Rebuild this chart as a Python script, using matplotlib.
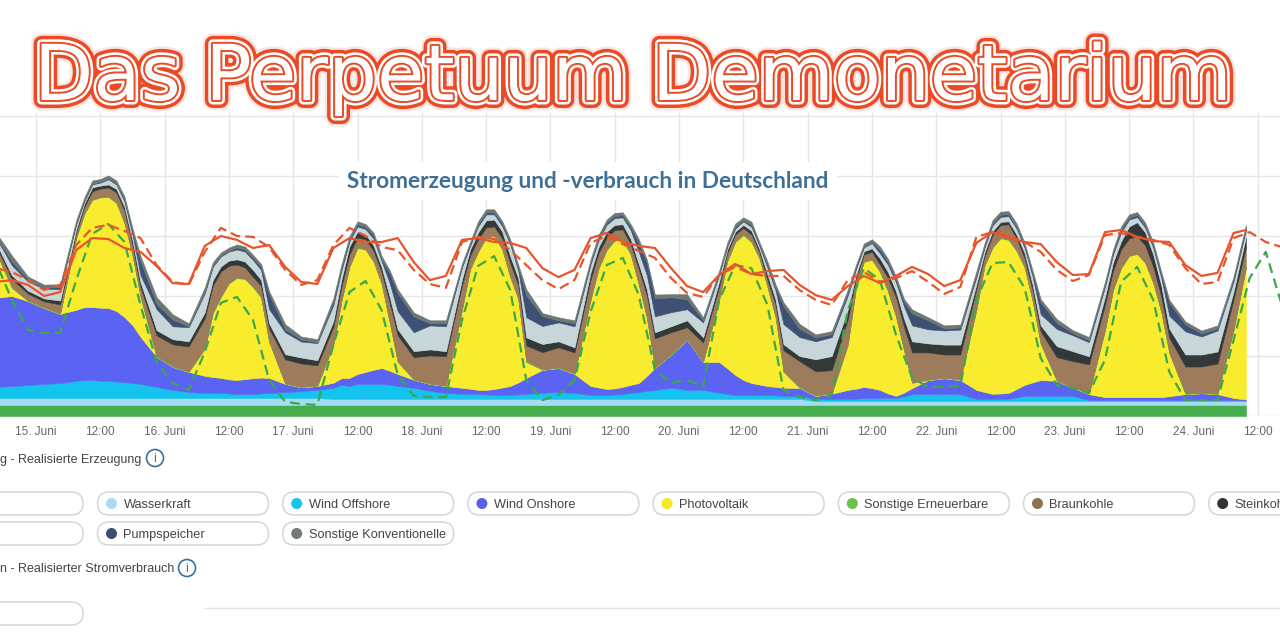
import numpy as np
import matplotlib.pyplot as plt
import matplotlib.patheffects as pe
from matplotlib.patches import FancyBboxPatch, Circle

UI_FONT = ['Liberation Sans Narrow', 'Liberation Sans', 'DejaVu Sans']

# hours since 15. Juni 00:00; 3-hourly at night, 1.5-hourly around the PV peaks
day_slots = [1.5, 4.5, 7.5, 9, 10.5, 12, 13.5, 15, 16.5, 18, 19.5, 22.5]
hours = [-7.5, -4.5, -1.5] + [24 * d + s for d in range(9) for s in day_slots] + [217.5, 220.5, 223.5, 225.8]
hours_line = list(np.arange(-7.5, 224, 3)) + [225.8]
hours_fc = np.arange(-7.5, 233, 3)

# generation in GW (prefix, 9 days of 12 readings, suffix)
biomasse = [3.7, 3.7, 3.7,
            3.7, 3.7, 3.7, 3.7, 3.7, 3.7, 3.7, 3.7, 3.7, 3.7, 3.7, 3.7,
            3.7, 3.7, 3.7, 3.7, 3.7, 3.7, 3.7, 3.7, 3.7, 3.7, 3.7, 3.7,
            3.7, 3.7, 3.7, 3.7, 3.7, 3.7, 3.7, 3.7, 3.7, 3.7, 3.7, 3.7,
            3.7, 3.7, 3.7, 3.7, 3.7, 3.7, 3.7, 3.7, 3.7, 3.7, 3.7, 3.7,
            3.7, 3.7, 3.7, 3.7, 3.7, 3.7, 3.7, 3.7, 3.7, 3.7, 3.7, 3.7,
            3.7, 3.7, 3.7, 3.7, 3.7, 3.7, 3.7, 3.7, 3.7, 3.7, 3.7, 3.7,
            3.7, 3.7, 3.7, 3.7, 3.7, 3.7, 3.7, 3.7, 3.7, 3.7, 3.7, 3.7,
            3.7, 3.7, 3.7, 3.7, 3.7, 3.7, 3.7, 3.7, 3.7, 3.7, 3.7, 3.7,
            3.7, 3.7, 3.7, 3.7, 3.7, 3.7, 3.7, 3.7, 3.7, 3.7, 3.7, 3.7,
            3.7, 3.7, 3.7, 3.7]
wasserkraft = [2.3, 2.3, 2.3,
               2.3, 2.3, 2.3, 2.3, 2.3, 2.3, 2.3, 2.3, 2.3, 2.3, 2.3, 2.3,
               2.3, 2.3, 2.3, 2.3, 2.3, 2.3, 2.3, 2.3, 2.3, 2.3, 2.3, 2.3,
               2.3, 2.3, 2.0, 2.0, 2.0, 2.0, 2.0, 2.0, 2.0, 2.0, 2.0, 2.0,
               2.0, 2.0, 2.0, 2.0, 2.0, 2.0, 2.0, 2.0, 2.0, 2.0, 2.0, 2.0,
               2.0, 2.0, 2.0, 2.0, 2.0, 2.0, 2.0, 2.0, 2.0, 2.0, 2.0, 2.0,
               2.0, 2.0, 2.0, 2.0, 2.0, 2.0, 2.0, 2.0, 2.0, 2.0, 2.0, 2.0,
               1.3, 1.3, 1.3, 1.3, 1.3, 1.3, 1.3, 1.3, 1.3, 1.3, 1.3, 1.3,
               1.3, 1.3, 1.3, 1.3, 1.3, 1.3, 1.3, 1.3, 1.3, 1.3, 1.3, 1.3,
               1.3, 1.3, 1.3, 1.3, 1.3, 1.3, 1.3, 1.3, 1.3, 1.3, 1.3, 1.3,
               1.3, 1.3, 1.3, 1.3]
wind_offshore = [3.7, 4.0, 4.3,
                 4.7, 5.0, 5.7, 6.0, 6.0, 5.8, 5.7, 5.5, 5.3, 5.0, 4.7, 3.7,
                 2.7, 2.0, 1.7, 1.7, 1.7, 1.5, 1.3, 1.3, 1.3, 1.5, 1.7, 2.0,
                 2.3, 2.7, 3.7, 4.7, 4.3, 5.0, 5.0, 5.0, 5.0, 4.7, 4.3, 3.7,
                 2.7, 2.0, 1.7, 1.7, 1.7, 1.5, 1.3, 1.3, 1.3, 1.5, 1.7, 2.0,
                 2.3, 2.0, 1.3, 1.3, 1.3, 1.5, 1.7, 2.0, 2.3, 2.7, 3.0, 3.7,
                 3.0, 3.0, 2.0, 1.7, 1.3, 1.3, 1.3, 1.3, 1.3, 1.2, 1.0, 1.0,
                 0.7, 0.7, 0.7, 0.8, 1.0, 1.0, 1.0, 1.0, 1.0, 1.5, 2.3, 2.3,
                 2.3, 2.3, 0.7, 0.7, 0.7, 0.7, 0.7, 1.2, 1.7, 1.7, 1.7, 1.7,
                 1.7, 0.3, 0.3, 0.3, 0.3, 0.3, 0.3, 0.3, 0.3, 0.3, 0.3, 0.3,
                 0.3, 0.3, 0.3, 0.2]
wind_onshore = [29.7, 30.0, 28.0,
                25.3, 23.0, 23.7, 24.3, 24.3, 24.3, 24.3, 23.5, 21.7, 19.3, 15.7, 10.0,
                7.7, 6.7, 5.7, 5.3, 5.0, 4.7, 4.7, 5.0, 5.3, 5.3, 5.0, 2.7,
                1.3, 1.3, 1.7, 2.2, 2.7, 3.3, 4.0, 4.7, 5.3, 4.7, 4.0, 2.7,
                2.3, 2.3, 2.0, 1.7, 1.3, 1.5, 2.0, 2.5, 3.0, 4.0, 5.3, 7.7,
                8.0, 6.3, 3.0, 2.5, 2.0, 2.0, 2.3, 2.7, 3.0, 5.0, 7.3, 11.0,
                16.7, 9.3, 10.3, 8.5, 6.7, 5.0, 4.0, 3.5, 3.0, 2.8, 2.7, 2.7,
                1.0, 1.7, 3.0, 3.3, 3.7, 3.3, 2.7, 1.5, 0.7, 1.3, 2.0, 4.7,
                5.3, 4.7, 3.0, 2.3, 1.7, 1.8, 2.0, 2.8, 3.7, 4.5, 5.3, 5.0,
                2.7, 2.0, 1.0, 1.0, 1.0, 1.0, 1.0, 1.0, 1.0, 1.0, 1.3, 2.0,
                2.3, 2.0, 0.7, 0.3]
photovoltaik = [15.3, 2.7, 0,
                0, 0, 24.0, 31.0, 35.7, 36.7, 37.0, 36.0, 31.3, 23.3, 13.3, 0,
                0, 0, 9.0, 21.3, 27.0, 32.0, 34.0, 33.3, 30.3, 26.7, 12.0, 0,
                0, 0, 12.7, 25.7, 37.0, 42.0, 40.7, 36.0, 28.0, 16.0, 4.0, 0,
                0, 0, 26.0, 39.7, 46.0, 50.7, 51.0, 46.0, 36.3, 27.7, 5.3, 0,
                0, 0, 28.7, 39.7, 46.3, 49.3, 49.0, 43.3, 32.7, 19.3, 0, 0,
                0, 0, 20.7, 35.7, 44.3, 48.3, 47.0, 42.0, 33.0, 23.3, 5.3, 0,
                0, 0, 15.0, 33.3, 41.7, 42.7, 39.3, 34.0, 26.3, 14.0, 1.7, 0,
                0, 0, 26.7, 42.0, 48.7, 51.7, 51.0, 46.0, 39.0, 27.0, 12.0, 0,
                0, 0, 22.3, 35.7, 43.0, 47.0, 47.7, 44.7, 38.0, 28.3, 14.3, 0,
                0, 0, 22.7, 44.0]
sonstige_ee = [0.2, 0.2, 0.2,
               0.2, 0.2, 0.2, 0.2, 0.2, 0.2, 0.2, 0.2, 0.2, 0.2, 0.2, 0.2,
               0.2, 0.2, 0.2, 0.2, 0.2, 0.2, 0.2, 0.2, 0.2, 0.2, 0.2, 0.2,
               0.2, 0.2, 0.2, 0.2, 0.2, 0.2, 0.2, 0.2, 0.2, 0.2, 0.2, 0.2,
               0.2, 0.2, 0.2, 0.2, 0.2, 0.2, 0.2, 0.2, 0.2, 0.2, 0.2, 0.2,
               0.2, 0.2, 0.2, 0.2, 0.2, 0.2, 0.2, 0.2, 0.2, 0.2, 0.2, 0.2,
               0.2, 0.2, 0.2, 0.2, 0.2, 0.2, 0.2, 0.2, 0.2, 0.2, 0.2, 0.2,
               0.2, 0.2, 0.2, 0.2, 0.2, 0.2, 0.2, 0.2, 0.2, 0.2, 0.2, 0.2,
               0.2, 0.2, 0.2, 0.2, 0.2, 0.2, 0.2, 0.2, 0.2, 0.2, 0.2, 0.2,
               0.2, 0.2, 0.2, 0.2, 0.2, 0.2, 0.2, 0.2, 0.2, 0.2, 0.2, 0.2,
               0.2, 0.2, 0.2, 0.2]
braunkohle = [2.0, 2.7, 2.3,
              2.0, 3.0, 1.7, 2.2, 2.7, 2.8, 3.0, 3.3, 4.0, 3.3, 3.0, 7.0,
              7.3, 8.3, 10.0, 9.0, 8.3, 5.7, 4.3, 3.7, 3.3, 3.7, 4.3, 8.0,
              7.7, 6.7, 5.7, 4.7, 4.0, 3.3, 3.3, 3.5, 3.7, 6.5, 8.7, 7.3,
              9.3, 9.7, 8.0, 4.4, 4.0, 3.3, 3.0, 3.5, 4.5, 4.5, 5.3, 5.7,
              6.7, 7.0, 6.7, 5.0, 4.0, 3.3, 3.3, 3.3, 5.0, 7.3, 9.7, 7.3,
              4.0, 6.3, 4.3, 2.5, 2.3, 2.2, 2.3, 2.0, 2.3, 4.0, 7.0, 8.7,
              8.0, 7.7, 8.3, 3.0, 2.3, 2.5, 2.3, 4.3, 6.3, 7.7, 10.0, 9.0,
              7.7, 8.3, 6.7, 3.0, 4.0, 4.3, 5.0, 4.0, 3.0, 3.5, 4.0, 7.7,
              8.7, 9.7, 8.3, 6.3, 6.0, 5.7, 5.7, 5.7, 5.3, 5.0, 5.0, 9.0,
              8.7, 10.0, 10.0, 6.7]
steinkohle = [1.0, 1.3, 1.0,
              1.0, 1.3, 1.0, 1.1, 1.3, 1.0, 1.0, 1.2, 1.3, 1.5, 1.7, 1.7,
              1.7, 1.7, 2.0, 1.8, 1.7, 1.7, 1.7, 2.0, 2.3, 2.0, 1.7, 1.7,
              2.0, 1.7, 2.0, 2.3, 2.7, 2.0, 1.7, 1.7, 1.7, 2.0, 2.0, 2.0,
              2.0, 1.7, 2.0, 2.0, 2.3, 2.3, 2.3, 2.3, 2.3, 2.3, 2.7, 2.7,
              2.0, 1.7, 2.3, 2.0, 2.0, 1.7, 1.7, 1.7, 1.7, 2.0, 2.0, 2.0,
              2.3, 1.7, 1.7, 1.2, 1.0, 1.0, 1.3, 1.0, 1.7, 1.7, 2.0, 1.7,
              4.0, 4.7, 3.3, 1.3, 1.0, 1.2, 2.0, 2.0, 2.0, 2.7, 3.7, 3.0,
              3.3, 3.3, 1.7, 1.3, 1.3, 1.0, 1.0, 1.3, 1.7, 1.8, 2.0, 3.7,
              3.3, 2.7, 2.7, 2.7, 2.7, 4.0, 4.7, 4.3, 4.0, 3.7, 3.0, 4.0,
              4.0, 4.0, 2.7, 3.3]
erdgas = [1.7, 3.3, 3.0,
          3.3, 3.7, 1.7, 0.8, 1.0, 1.0, 1.7, 1.5, 1.7, 2.0, 2.3, 7.0,
          4.3, 4.7, 6.3, 4.5, 3.3, 3.0, 3.3, 3.3, 3.3, 3.3, 4.7, 7.3,
          5.3, 5.7, 5.3, 3.0, 1.7, 1.7, 1.7, 2.3, 2.0, 4.5, 6.0, 6.3,
          8.0, 8.3, 4.0, 1.3, 2.0, 2.0, 1.7, 1.8, 3.9, 2.5, 6.7, 6.0,
          6.3, 7.0, 2.7, 2.3, 2.3, 2.3, 2.3, 3.0, 4.0, 4.7, 5.3, 4.7,
          3.7, 5.0, 2.3, 1.0, 1.0, 1.2, 1.3, 1.0, 2.3, 3.0, 6.7, 6.3,
          6.0, 6.3, 4.7, 2.0, 1.3, 1.7, 1.7, 2.4, 3.0, 4.0, 5.3, 4.7,
          4.7, 5.0, 2.3, 1.6, 2.0, 1.7, 1.7, 2.0, 1.7, 2.7, 3.7, 5.7,
          5.3, 4.7, 3.3, 2.6, 3.0, 2.3, 1.7, 1.6, 2.3, 2.6, 4.3, 7.7,
          6.0, 7.0, 3.3, 2.3]
pumpspeicher = [0.3, 1.3, 0.7,
                0.3, 0.7, 0.3, 0.2, 0.3, 0.2, 0.3, 0.3, 0.7, 1.0, 4.7, 1.7,
                2.3, 0.3, 0.7, 0.5, 0.3, 0.3, 0.7, 0.7, 0.7, 1.0, 5.0, 1.0,
                0.7, 0.3, 1.3, 1.0, 0.7, 0.7, 0.7, 1.0, 0.7, 3.3, 6.0, 5.3,
                0.7, 1.0, 0.3, 0.3, 0.7, 0.7, 0.7, 0.7, 0.7, 1.0, 7.3, 3.3,
                0.7, 1.0, 0.7, 0.7, 0.7, 0.7, 0.7, 1.0, 3.0, 4.3, 6.0, 5.0,
                3.3, 0.7, 0.3, 0.3, 0.7, 0.3, 0.7, 0.3, 1.0, 1.0, 6.0, 2.7,
                1.3, 1.0, 1.0, 0.4, 0.3, 0.3, 1.3, 1.0, 1.0, 1.6, 4.0, 3.0,
                0.7, 0.7, 1.0, 0.4, 0.7, 0.7, 0.7, 0.7, 0.7, 1.0, 4.0, 2.0,
                0.7, 0.7, 0.7, 0.7, 1.0, 0.7, 0.7, 0.7, 0.7, 1.0, 4.3, 2.3,
                1.0, 0.7, 0.7, 0.7]
sonstige_konv = [1.3, 2.0, 1.0,
                 1.0, 1.0, 1.0, 1.0, 1.0, 1.0, 1.0, 1.0, 1.0, 1.0, 1.7, 2.3,
                 1.7, 1.0, 1.3, 1.0, 1.0, 1.0, 1.0, 1.0, 1.0, 1.0, 1.0, 1.7,
                 1.0, 1.0, 1.0, 1.0, 1.0, 1.0, 1.0, 1.0, 1.0, 1.0, 1.3, 1.3,
                 1.0, 1.0, 1.0, 1.0, 1.0, 1.0, 1.0, 1.0, 1.0, 1.0, 2.0, 1.0,
                 1.0, 1.0, 1.0, 1.0, 1.0, 1.0, 1.0, 1.0, 1.3, 1.0, 1.3, 1.0,
                 1.7, 1.0, 1.0, 1.0, 1.0, 1.0, 1.0, 1.0, 1.0, 1.0, 1.3, 1.7,
                 1.0, 1.0, 1.0, 1.0, 1.0, 1.0, 1.0, 1.0, 1.0, 1.0, 1.3, 1.0,
                 1.0, 1.0, 1.0, 1.0, 1.0, 1.0, 1.0, 1.0, 1.0, 1.0, 1.0, 1.3,
                 1.0, 1.0, 1.0, 1.0, 1.0, 1.0, 1.0, 1.0, 1.0, 1.0, 1.0, 1.0,
                 1.0, 1.0, 1.0, 1.0]

# consumption (GW) and the two forecast curves, 3-hourly
verbrauch = [44.7, 45.3, 43.7, 40.0, 41.3, 55.3, 59.3, 59.0, 56.0, 54.7,
             50.0, 44.3, 44.0, 56.7, 60.0, 58.7, 56.0, 57.0, 49.7, 44.7,
             44.0, 56.0, 59.3, 58.0, 58.0, 59.3, 51.3, 45.3, 46.7, 58.7,
             59.3, 58.0, 57.7, 56.0, 49.3, 46.3, 48.7, 59.3, 61.0, 58.0,
             56.7, 56.0, 49.3, 43.3, 41.3, 47.0, 50.7, 47.3, 48.3, 48.7,
             43.7, 40.3, 38.7, 43.3, 46.7, 44.3, 46.7, 49.7, 47.3, 43.3,
             45.3, 57.7, 61.3, 59.3, 58.0, 57.3, 51.3, 47.0, 47.3, 61.3,
             62.0, 59.7, 58.3, 58.0, 50.3, 46.7, 47.7, 61.0, 62.0]
verbrauch_prognose = [49.3, 48.0, 45.3, 42.0, 43.7, 57.0, 62.7, 63.7, 61.7, 59.3,
                      50.3, 44.7, 43.7, 54.7, 62.7, 60.0, 59.7, 56.3, 48.7, 43.7,
                      45.3, 57.0, 62.7, 60.0, 56.3, 55.3, 48.7, 44.0, 42.7, 58.0,
                      59.7, 59.0, 55.3, 50.3, 45.3, 42.3, 45.3, 57.7, 60.0, 57.3,
                      55.0, 52.7, 46.0, 41.0, 39.7, 47.0, 49.7, 47.3, 46.7, 46.7,
                      42.0, 38.7, 37.0, 45.3, 48.0, 44.7, 46.0, 48.3, 44.7, 40.7,
                      43.0, 59.7, 61.3, 60.0, 58.0, 54.7, 48.7, 45.0, 47.0, 60.3,
                      61.0, 59.7, 58.7, 57.0, 49.3, 44.0, 44.7, 59.3, 61.3, 58.0,
                      56.3]
ee_prognose = [51.3, 38.7, 28.7, 27.7, 27.7, 45.3, 60.7, 64.0, 58.0, 37.0,
               18.0, 11.0, 8.7, 21.3, 37.7, 39.7, 32.0, 12.0, 4.7, 4.0,
               3.7, 23.7, 41.3, 45.0, 35.3, 13.7, 6.7, 6.3, 6.3, 32.0,
               50.0, 53.3, 42.0, 12.0, 5.3, 7.0, 12.0, 34.7, 50.3, 52.7,
               40.3, 15.3, 11.0, 12.0, 9.7, 38.7, 50.3, 49.3, 37.0, 8.7,
               6.3, 5.3, 7.0, 35.3, 49.3, 45.3, 27.0, 12.7, 9.7, 9.7,
               10.0, 38.7, 51.0, 51.3, 42.7, 19.3, 10.3, 9.3, 7.7, 18.7,
               44.7, 49.7, 38.7, 14.7, 5.3, 5.3, 5.3, 25.3, 46.0, 54.7,
               37.0]

layers = [
    ('Biomasse', biomasse, '#45ad4c'),
    ('Wasserkraft', wasserkraft, '#a6dcf0'),
    ('Wind Offshore', wind_offshore, '#14c4ee'),
    ('Wind Onshore', wind_onshore, '#5a63f2'),
    ('Photovoltaik', photovoltaik, '#f9ec2e'),
    ('Sonstige Erneuerbare', sonstige_ee, '#6cbf47'),
    ('Braunkohle', braunkohle, '#9d7b5b'),
    ('Steinkohle', steinkohle, '#333838'),
    ('Erdgas', erdgas, '#c7d7d9'),
    ('Pumpspeicher', pumpspeicher, '#3e5175'),
    ('Sonstige Konventionelle', sonstige_konv, '#6e7873'),
]

legend_row1 = ['Wasserkraft', 'Wind Offshore', 'Wind Onshore', 'Photovoltaik',
               'Sonstige Erneuerbare', 'Braunkohle', 'Steinkohle']
legend_row2 = ['Pumpspeicher', 'Sonstige Konventionelle']
dot_colors = {'Wasserkraft': '#a8dcf2', 'Wind Offshore': '#19c3ea', 'Wind Onshore': '#5b60e6',
              'Photovoltaik': '#f6e824', 'Sonstige Erneuerbare': '#6cc04a', 'Braunkohle': '#8c7256',
              'Steinkohle': '#333333', 'Pumpspeicher': '#3c4e70', 'Sonstige Konventionelle': '#717a75'}

fig = plt.figure(figsize=(12.8, 6.4), dpi=100)
ax = fig.add_axes([0, 224 / 640, 1, 303 / 640])

base = np.zeros(len(hours))
for name, vals, col in layers:
    top = base + np.array(vals)
    ax.fill_between(hours, base, top, color=col, ec=col, lw=0.4, zorder=2)
    base = top

red = '#e8552d'
ax.plot(hours_line, verbrauch, color=red, lw=1.6, zorder=4)
ax.plot(hours_fc, verbrauch_prognose, color=red, lw=1.6, dashes=(4.5, 2.3), zorder=4)
ax.plot(hours_fc, ee_prognose, color='#3ba94a', lw=1.6, dashes=(4.5, 2.6), zorder=3)

ax.set_xlim(-6.72, 232.16)
ax.set_ylim(0, 101)
ticks = list(range(0, 229, 12))
labels = ['%d. Juni' % (15 + t // 24) if t % 24 == 0 else '12:00' for t in ticks]
ax.set_xticks(ticks)
ax.set_xticklabels(labels, family=UI_FONT)
ax.set_yticks(range(0, 101, 20))
ax.set_yticklabels([])
ax.tick_params(axis='x', length=0, pad=7, labelsize=8.5, labelcolor='#666666')
ax.tick_params(axis='y', length=0)
ax.grid(True, color='#e6e6e6', lw=1)
ax.set_axisbelow(True)
for s in ax.spines.values():
    s.set_visible(False)

# pixel overlay for header, title and legend
px = fig.add_axes([0, 0, 1, 1])
px.set_xlim(0, 1280)
px.set_ylim(640, 0)
px.axis('off')

title_red = '#ea4a26'
px.text(633, 100, 'Das Perpetuum Demonetarium', fontsize=55.5, family='DejaVu Sans',
        color='white', ha='center', va='baseline',
        path_effects=[pe.Stroke(linewidth=15, foreground='#f5a898', alpha=0.3),
                      pe.Stroke(linewidth=11.5, foreground=title_red),
                      pe.Stroke(linewidth=6.5, foreground='white'),
                      pe.Stroke(linewidth=2.8, foreground=title_red),
                      pe.Normal()])

blue_txt = '#3d6f97'
px.text(588, 181, 'Stromerzeugung und -verbrauch in Deutschland', fontsize=16.3,
        family=['Lato', 'DejaVu Sans'], weight='bold', color=blue_txt,
        ha='center', va='center', bbox=dict(fc='white', ec='none', pad=6))


def info_icon(x, y):
    px.add_patch(Circle((x, y), 8.5, fill=False, ec=blue_txt, lw=1.2))
    px.text(x, y + 0.5, 'i', fontsize=9, color=blue_txt, ha='center', va='center', family=UI_FONT)


def pill(x0, x1, yc, label=None):
    px.add_patch(FancyBboxPatch((x0, yc - 11.5), x1 - x0, 23,
                                boxstyle='round,pad=0,rounding_size=11.5',
                                fc='white', ec='#d6d6d6', lw=1.1))
    if label:
        px.add_patch(Circle((x0 + 14, yc), 4.8, color=dot_colors[label]))
        px.text(x0 + 26, yc, label, fontsize=9.2, color='#444444', va='center_baseline',
                family=UI_FONT, clip_on=True)


px.text(0, 458, 'g - Realisierte Erzeugung', fontsize=9.0, color='#444444',
        va='center_baseline', family=UI_FONT)
info_icon(155, 458)

pill(-120, 83, 503.5)
for i, name in enumerate(legend_row1):
    x0 = 97.5 + i * 185.2
    pill(x0, x0 + 171, 503.5, name)
pill(-120, 83, 533.5)
for i, name in enumerate(legend_row2):
    x0 = 97.5 + i * 185.2
    pill(x0, x0 + 171, 533.5, name)

px.text(0, 568, 'n - Realisierter Stromverbrauch', fontsize=9.0, color='#444444',
        va='center_baseline', family=UI_FONT)
info_icon(187, 568)
pill(-120, 83, 613.5)
px.plot([205, 1280], [608, 608], color='#e3e3e3', lw=1)

fig.savefig('out.png', dpi=100)
